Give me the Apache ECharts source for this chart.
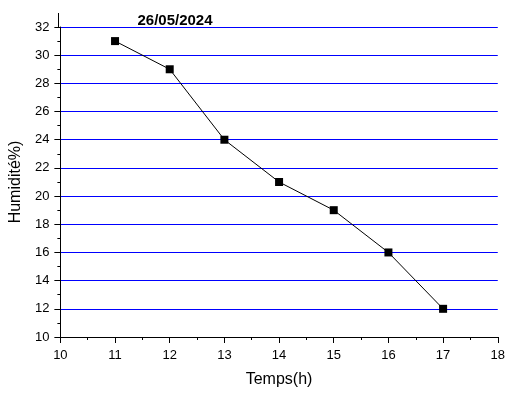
<!DOCTYPE html>
<html>
<head>
<meta charset="utf-8">
<script src="https://cdn.jsdelivr.net/npm/echarts@6/dist/echarts.min.js"></script>
<style>
  html, body { margin: 0; padding: 0; background: #fff; }
  #chart { width: 508px; height: 393px; }
</style>
</head>
<body>
<div id="chart"></div>
<script>
var hours = [11, 12, 13, 14, 15, 16, 17];
var humidity = [31, 29, 24, 21, 19, 16, 12];

var points = hours.map(function (h, i) { return [h, humidity[i]]; });

var myChart = echarts.init(document.getElementById('chart'));
var option = {
    animation: false,
    title: {
        text: '26/05/2024',
        left: 170,
        top: 8,
        textAlign: 'center',
        textStyle: { fontFamily: 'Liberation Sans', fontSize: 15, fontWeight: 'bold', color: '#000' }
    },
    grid: { left: 58, right: 8, top: 27, bottom: 55 },
    // axis line of y goes a bit above the last tick, like in the original
    graphic: [{
        type: 'line',
        shape: { x1: 58.5, y1: 13, x2: 58.5, y2: 27 },
        style: { stroke: '#000', lineWidth: 1 }
    }],
    xAxis: {
        type: 'value',
        min: 10,
        max: 18,
        interval: 1,
        name: 'Temps(h)',
        nameLocation: 'middle',
        nameGap: 35,
        nameTextStyle: { fontFamily: 'Liberation Sans', fontSize: 16, color: '#000' },
        axisLine: { show: true, lineStyle: { color: '#000', width: 1 } },
        axisTick: { show: true, inside: false, length: 6, lineStyle: { color: '#000' } },
        minorTick: { show: true, splitNumber: 2, length: 3, lineStyle: { color: '#000' } },
        axisLabel: { fontFamily: 'Liberation Sans', fontSize: 13, color: '#000', margin: 12 },
        splitLine: { show: false }
    },
    yAxis: {
        type: 'value',
        min: 10,
        max: 32,
        interval: 2,
        name: 'Humidité%)',
        nameLocation: 'middle',
        nameGap: 33,
        nameTextStyle: { fontFamily: 'Liberation Sans', fontSize: 16, color: '#000' },
        axisLine: { show: true, lineStyle: { color: '#000', width: 1 } },
        axisTick: { show: true, inside: false, length: 6, lineStyle: { color: '#000' } },
        minorTick: { show: true, splitNumber: 2, length: 3, lineStyle: { color: '#000' } },
        axisLabel: { fontFamily: 'Liberation Sans', fontSize: 13, color: '#000', margin: 11 },
        splitLine: { show: true, lineStyle: { color: '#0000ff', width: 1 } }
    },
    series: [{
        type: 'line',
        data: points,
        symbol: 'rect',
        symbolSize: 8,
        itemStyle: { color: '#000' },
        lineStyle: { color: '#000', width: 1 }
    }]
};
myChart.setOption(option, true);
</script>
</body>
</html>
